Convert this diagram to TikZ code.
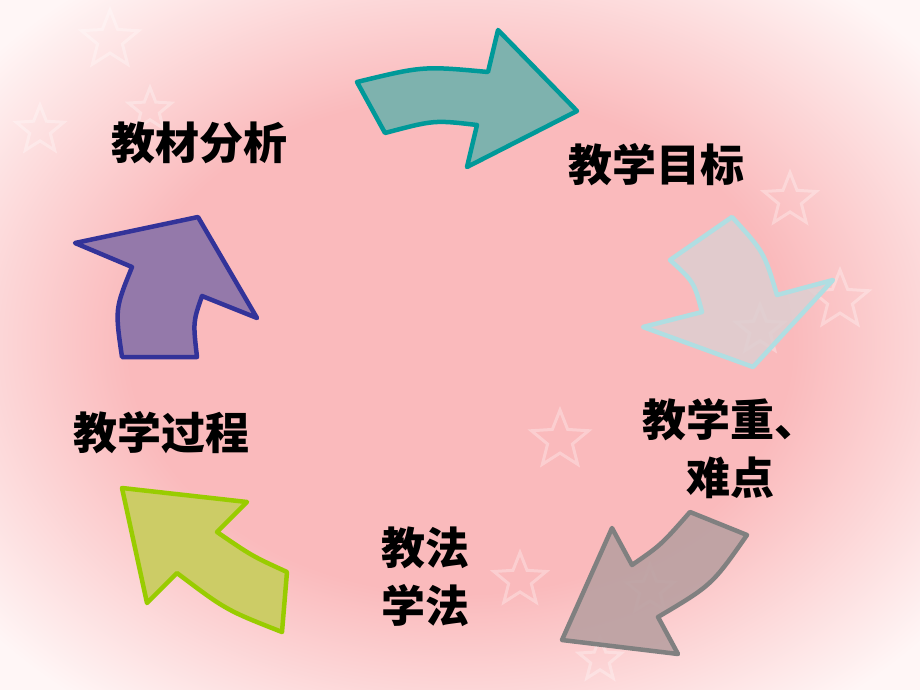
\documentclass[tikz,border=0pt]{standalone}
\usepackage{fontspec}
\newfontfamily\cjk{Noto Sans CJK SC}
\usetikzlibrary{shapes.geometric}
\definecolor{bgpink}{RGB}{250,186,188}
\definecolor{bgwhite}{RGB}{255,246,246}
\definecolor{tealline}{RGB}{0,153,153}
\definecolor{tealfill}{RGB}{126,178,174}
\definecolor{cyanline}{RGB}{176,222,226}
\definecolor{cyanfill}{RGB}{221,207,209}
\definecolor{grayline}{RGB}{128,128,128}
\definecolor{grayfill}{RGB}{186,160,161}
\definecolor{greenline}{RGB}{153,204,0}
\definecolor{greenfill}{RGB}{204,204,102}
\definecolor{purpleline}{RGB}{51,51,153}
\definecolor{purplefill}{RGB}{148,121,170}
\pgfdeclareradialshading{pinkglow}{\pgfpoint{0bp}{0bp}}{color(0bp)=(bgpink); color(18bp)=(bgpink); color(33bp)=(bgwhite); color(50bp)=(bgwhite)}
\begin{document}
\begin{tikzpicture}[x=1pt, y=-1pt,
		bigarrow/.style={line width=4.5pt, line join=round},
		label/.style={font=\cjk\bfseries\fontsize{44}{58}\selectfont, align=center, inner sep=0pt},
		bgstar/.style={star, star points=5, star point ratio=2.3, draw=white, line width=3pt, opacity=.3}]
		\useasboundingbox (0,0) rectangle (920,690);
		\shade [shading=pinkglow] (0,0) rectangle (920,690);
		% faint stars in the background
		\foreach \sx/\sy/\sr [count=\i] in {110/40/60, 40/130/50, 150/110/45, 790/200/55, 840/300/60, 760/330/50, 560/440/60, 520/580/55, 650/590/50, 600/660/45} {
			\node [bgstar, minimum size=\sr] (star\i) at (\sx,\sy) {};
		};
		% arrows
		\draw [bigarrow, draw=tealline, fill=tealfill] (357,82) .. controls (423,66) .. (488,72) -- (498,30) -- (577,111) -- (467,167) -- (477,125) .. controls (434,120) .. (385,133) -- cycle;
		\draw [bigarrow, draw=cyanline, fill=cyanfill, fill opacity=.85] (732,217) -- (670,260) .. controls (694,282) .. (702,312) -- (643,327) -- (753,367) -- (833,280) -- (777,295) .. controls (764,252) .. (732,217) -- cycle;
		\draw [bigarrow, draw=grayline, fill=grayfill, fill opacity=.9] (690,512) -- (747,535) .. controls (712,585) .. (658,617) -- (678,654) -- (562,640) -- (612,528) -- (632,565) .. controls (661,545) .. (690,512) -- cycle;
		\draw [bigarrow, draw=greenline, fill=greenfill] (122,488) -- (247,502) -- (217,532) .. controls (252,556) .. (287,572) -- (282,632) .. controls (226,610) .. (177,573) -- (147,603) -- cycle;
		\draw [bigarrow, draw=purpleline, fill=purplefill] (75,243) -- (132,267) .. controls (115,309) .. (122,357) -- (197,357) .. controls (193,322) .. (202,296) -- (257,318) -- (198,217) -- cycle;
		% labels
		\node [label] (fenxi) at (199,143) {教材分析};
		\node [label] (mubiao) at (656,165) {教学目标};
		\node [label] (zhongnan) at (730,449) {教学重、\\难点};
		\node [label] (jiaofa) at (425,577) {教法\\学法};
		\node [label] (guocheng) at (161,433) {教学过程};
\end{tikzpicture}
\end{document}
